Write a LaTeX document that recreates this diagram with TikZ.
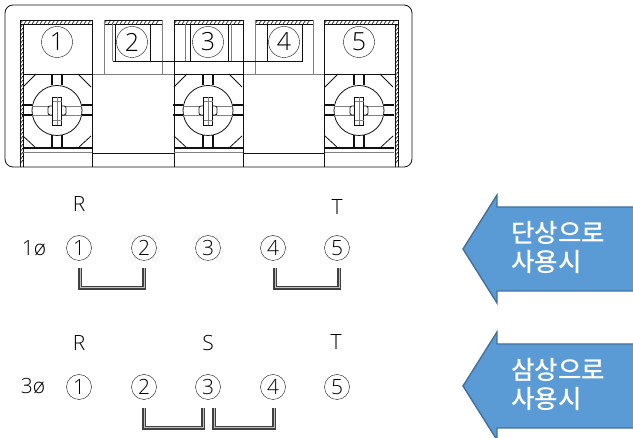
\documentclass[tikz,border=0pt]{standalone}
\usepackage{fontspec}
\setmainfont[UprightFont=* Light]{Open Sans}
\newfontfamily\krfont[UprightFont=* Medium]{Noto Sans CJK KR}
\definecolor{arrowfill}{HTML}{5B9BD5}
\definecolor{arrowedge}{HTML}{41719C}
\definecolor{cadline}{HTML}{111111}
\tikzset{
	num/.style = {draw=cadline, circle, inner sep=0pt, minimum size=25pt, font=\fontsize{21}{21}\selectfont, text=black},
	bignum/.style = {num, minimum size=31pt, font=\fontsize{25}{25}\selectfont},
	phase/.style = {font=\fontsize{21}{21}\selectfont, text=black},
	cad/.style = {draw=cadline, line width=0.8pt},
	thin cad/.style = {draw=gray, line width=0.7pt},
	jumper/.style = {draw=black!75, double=black!25, double distance=1pt, line width=1.1pt},
	bigarrow/.style = {fill=arrowfill, draw=arrowedge, line width=1.4pt, line join=miter},
	arrowtext/.style = {text=white, align=left, anchor=west, inner sep=0pt, font=\krfont\fontsize{25.5}{29}\selectfont}
}
\begin{document}
\begin{tikzpicture}[x=1pt, y=-1pt]
	\useasboundingbox (0,0) rectangle (633,438);
	% housing
	\draw[cad] [rounded corners=8pt] (5,80) -- (5,5) -- (412,5) -- (412,167) -- (5,167) -- cycle;
	% hatching
	\foreach \a/\b in {20/92, 104/162, 174/243, 255/313, 324/398}
		\draw[cad] (\a,20) -- (\b,20) (\a,24) -- (\b,24);
	\foreach \a/\b in {20/92, 104/162, 174/243, 255/313, 324/398} {
		\pgfmathsetmacro{\second}{\a+4}
		\pgfmathsetmacro{\last}{\b-3}
		\foreach \h in {\a,\second,...,\last}
			\draw[cad, line width=0.6pt] (\h,24) -- ++(3,-4);
	}
	\draw[cad] (20,20) -- (20,167) (23,24) -- (23,167);
	\draw[cad] (395,24) -- (395,167) (398,20) -- (398,167);
	\foreach \v in {24,28,...,160} {
		\draw[cad, line width=0.6pt] (20,\v+4) -- (23,\v);
		\draw[cad, line width=0.6pt] (395,\v+4) -- (398,\v);
	}
	% terminal boxes
	\foreach \h in {92,174,243,324}
		\draw[cad] (\h,20) -- (\h,74);
	\foreach \h in {104,162,255,313}
		\draw[thin cad] (\h,20) -- (\h,74);
	\draw[cad] (23,74) -- (92,74) (174,74) -- (243,74) (324,74) -- (395,74);
	\draw[thin cad] (92,74) -- (174,74) (243,74) -- (324,74);
	\draw[cad] (115,24) rectangle (150,61);
	\draw[cad] (190,24) rectangle (228,61);
	\draw[cad] (267,24) rectangle (302,61);
	\draw[thin cad] (112.5,24) -- (112.5,61) (185,24) -- (185,61) (231,24) -- (231,61);
	\draw[cad] (113,61) -- (302,61);
	% middle blocks
	\foreach \a/\b in {92/174, 243/324} {
		\draw[cad, line width=1pt] (\a,74) -- (\a,154) -- (\b,154) -- (\b,74);
		\draw[cad] (\a,154) -- (\a,167) (\b,154) -- (\b,167);
	}
	% screws
	\foreach \cx in {57,208,359} {
		\draw[cad, line width=1.3pt] (\cx-34,148) -- (\cx+35,148);
		\draw[thin cad] (\cx-34,152) -- (\cx+35,152);
		\draw[cad] (\cx-34,87) -- (\cx-21,74) (\cx+34,87) -- (\cx+21,74);
		\draw[cad] (\cx-34,136) -- (\cx-21,148) (\cx+34,136) -- (\cx+21,148);
		\draw[cad] (\cx,110.5) circle (25);
		\foreach \s in {-1,1} {
			\draw[cad, line width=1.3pt] (\cx+\s*5,74) -- (\cx+\s*5,85.5) (\cx+\s*5,135.5) -- (\cx+\s*5,148);
			\draw[cad, line width=1.3pt] (\cx+\s*35,105) -- (\cx+\s*25,105) (\cx+\s*35,115) -- (\cx+\s*25,115);
		}
		\draw[thin cad] (\cx-25,106) -- (\cx+25,106) (\cx-25,115) -- (\cx+25,115);
		\draw[cad, fill=white, rounded corners=2pt] (\cx-9,106) rectangle (\cx+9,115);
		\draw[cad, fill=white] (\cx-4.5,97) rectangle (\cx+4.5,125);
		\draw[thin cad] (\cx-4.5,101) -- (\cx+4.5,101) (\cx-4.5,120) -- (\cx+4.5,120) (\cx,97) -- (\cx,125);
	}
	% numbers on the terminals
	\foreach \n/\cx in {1/57, 2/132, 3/208, 4/284, 5/359}
		\node[bignum] (top\n) at (\cx,42) {\n};
	% single phase
	\node[phase] (onelabel) at (34,248) {1ø};
	\node[phase] (oneR) at (79,204) {R};
	\node[phase] (oneT) at (337,207) {T};
	\foreach \n/\cx in {1/79, 2/144, 3/208, 4/273, 5/337}
		\node[num] (one\n) at (\cx,248) {\n};
	\coordinate (oneA) at (80,268);
	\coordinate (oneB) at (144,268);
	\coordinate (oneC) at (275,268);
	\coordinate (oneD) at (339,268);
	\draw[jumper] (oneA) -- ++(0,20) -| (oneB);
	\draw[jumper] (oneC) -- ++(0,20) -| (oneD);
	% three phase
	\node[phase] (threelabel) at (33,386) {3ø};
	\node[phase] (threeR) at (79,343) {R};
	\node[phase] (threeS) at (208,343) {S};
	\node[phase] (threeT) at (336,342) {T};
	\foreach \n/\cx in {1/79, 2/144, 3/208, 4/273, 5/337}
		\node[num] (three\n) at (\cx,387) {\n};
	\coordinate (threeA) at (144,408);
	\coordinate (threeB) at (203,408);
	\coordinate (threeC) at (214,408);
	\coordinate (threeD) at (274,408);
	\draw[jumper] (threeA) -- ++(0,20) -| (threeB);
	\draw[jumper] (threeC) -- ++(0,20) -| (threeD);
	% arrows
	\draw[bigarrow] (640,207) -- (497,207) -- (497,195) -- (463,249) -- (497,303) -- (497,291) -- (640,291);
	\draw[bigarrow] (640,344) -- (497,344) -- (497,332) -- (463,386) -- (497,440) -- (497,428) -- (640,428);
	\node[arrowtext] (onetext) at (511,247) {단상으로\\사용시};
	\node[arrowtext] (threetext) at (511,384) {삼상으로\\사용시};
\end{tikzpicture}
\end{document}
